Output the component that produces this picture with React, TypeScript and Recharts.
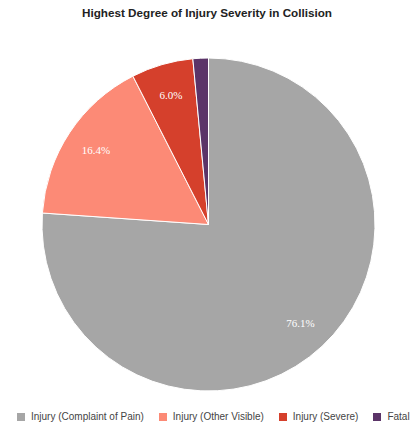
import { PieChart, Pie, Cell, Legend } from 'recharts';

const categories = ['Injury (Complaint of Pain)', 'Injury (Other Visible)', 'Injury (Severe)', 'Fatal'];
const shares = [76.1, 16.4, 6.0, 1.5];
const colors = ['#a6a6a6', '#fc8a76', '#d5402c', '#5b3468'];
const labels = ['76.1%', '16.4%', '6.0%', ''];

const data = categories.map((name, i) => ({ name, value: shares[i] }));

const RAD = Math.PI / 180;

function renderLabel(props: any) {
    const { cx, cy, midAngle, outerRadius, index } = props;
    const r = outerRadius * 0.81;
    const x = cx + r * Math.cos(-midAngle * RAD);
    const y = cy + r * Math.sin(-midAngle * RAD);
    return (
        <text
            x={x}
            y={y}
            fill="#ffffff"
            textAnchor="middle"
            dominantBaseline="central"
            fontFamily="'Liberation Serif', 'DejaVu Serif', serif"
            fontSize={11}
        >
            {labels[index]}
        </text>
    );
}

function LegendContent() {
    return (
        <div style={{ display: 'flex', justifyContent: 'flex-start', gap: 15, fontFamily: "'Liberation Sans', Arial, sans-serif", fontSize: 10, color: '#444', paddingLeft: 17, whiteSpace: 'nowrap' }}>
            {categories.map((c, i) => (
                <div key={c} style={{ display: 'flex', alignItems: 'center', flexShrink: 0 }}>
                    <span style={{ width: 8, height: 8, background: colors[i], display: 'inline-block', marginRight: 6, flexShrink: 0 }} />
                    <span>{c}</span>
                </div>
            ))}
        </div>
    );
}

export default function App() {
    return (
        <div style={{ position: 'absolute', left: 0, top: 0, width: 414, height: 426, background: '#fff' }}>
            <div style={{ position: 'absolute', top: 6, left: 0, width: 414, textAlign: 'center', fontFamily: "'Liberation Sans', Arial, sans-serif", fontWeight: 'bold', fontSize: 11.7, color: '#222', zIndex: 1 }}>
                Highest Degree of Injury Severity in Collision
            </div>
            <PieChart width={414} height={426} margin={{ top: 0, right: 0, bottom: 0, left: 0 }}>
                <Pie
                    data={data}
                    dataKey="value"
                    nameKey="name"
                    cx={208.5}
                    cy={224.5}
                    outerRadius={166.5}
                    startAngle={90}
                    endAngle={-270}
                    stroke="#ffffff"
                    strokeWidth={1}
                    label={renderLabel}
                    labelLine={false}
                    isAnimationActive={false}
                >
                    {data.map((d, i) => (
                        <Cell key={d.name} fill={colors[i]} />
                    ))}
                </Pie>
                <Legend
                    verticalAlign="bottom"
                    content={<LegendContent />}
                    wrapperStyle={{ bottom: 4, left: 0, width: 414 }}
                />
            </PieChart>
        </div>
    );
}
